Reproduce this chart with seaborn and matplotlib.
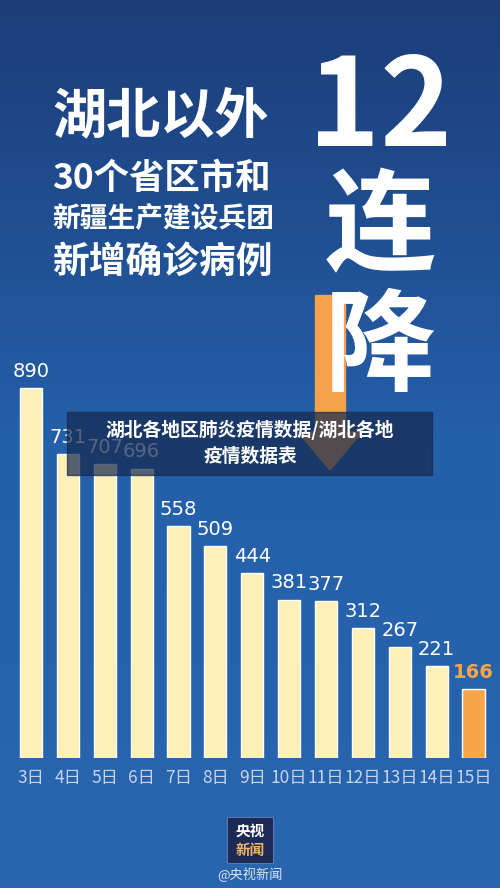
import numpy as np
import pandas as pd
import matplotlib
matplotlib.use("Agg")
import matplotlib.pyplot as plt
from matplotlib.patches import Rectangle, Polygon
import seaborn as sns

days = ["3日", "4日", "5日", "6日", "7日", "8日", "9日", "10日", "11日", "12日", "13日", "14日", "15日"]
new_cases = [890, 731, 707, 696, 558, 509, 444, 381, 377, 312, 267, 221, 166]

sns.set_style("white")
plt.rcParams['font.family'] = ['Noto Sans CJK SC', 'DejaVu Sans']

W, H = 500, 888
fig = plt.figure(figsize=(5, 8.88), dpi=100)

# background gradient
bg = fig.add_axes([0, 0, 1, 1])
grad = np.linspace(0, 1, 256).reshape(-1, 1)
cmap = matplotlib.colors.LinearSegmentedColormap.from_list("bg", ["#1c3d78", "#2460aa", "#2a66b0"])
bg.imshow(grad, aspect="auto", cmap=cmap, extent=[0, W, H, 0])
bg.set_xlim(0, W)
bg.set_ylim(H, 0)
bg.axis("off")

def px(x, y):
    return x / W, 1 - y / H

# headline text
for txt, y, fs in [("湖北以外", 118, 39), ("30个省区市和", 178, 25.5),
                   ("新疆生产建设兵团", 218, 20), ("新增确诊病例", 262, 26.5)]:
    fig.text(*px(52, y), txt, color="white", fontsize=fs, fontweight="bold", va="center", ha="left")

# orange arrow behind 降
bg.add_patch(Rectangle((315, 295), 30, 140, color="#f6a24c", zorder=2))
bg.add_patch(Polygon([[298, 432], [362, 432], [330, 470]], color="#f6a24c", zorder=2))
fig.text(*px(380, 110), "12", color="white", fontsize=88, fontweight="bold", ha="center", va="center")
fig.text(*px(380, 230), "连", color="white", fontsize=80, fontweight="bold", ha="center", va="center")
fig.text(*px(380, 350), "降", color="white", fontsize=80, fontweight="bold", ha="center", va="center", zorder=5)

# bar chart
ax = fig.add_axes([0.025, 0.1464, 0.959, 0.468])
df = pd.DataFrame({"day": days, "cases": new_cases})
colors = ["#fdf0b8"] * (len(days) - 1) + ["#f8a54a"]
sns.barplot(data=df, x="day", y="cases", hue="day", palette=colors, legend=False,
            width=0.6, ax=ax, saturation=1)
ax.set_xlim(-0.5, len(days) - 0.5)
ax.set_ylim(0, 1000)
ax.patch.set_alpha(0)
for s in ax.spines.values():
    s.set_visible(False)
ax.set_xlabel("")
ax.set_ylabel("")
ax.set_yticks([])
ax.tick_params(axis="x", length=0, pad=8, labelsize=12.5, labelcolor="#c6d4ec")
for i, v in enumerate(new_cases):
    last = i == len(new_cases) - 1
    ax.text(i, v + 18, str(v), ha="center", va="bottom", fontsize=14,
            color="#f8a54a" if last else "white", fontweight="bold" if last else "normal",
            family="DejaVu Sans")

# overlay caption
ov = fig.add_axes([0, 0, 1, 1])
ov.set_xlim(0, W)
ov.set_ylim(H, 0)
ov.axis("off")
ov.add_patch(Rectangle((67, 412), 365, 63, color="#162a50", alpha=0.72))
ov.text(250, 430, "湖北各地区肺炎疫情数据/湖北各地", color="white", fontsize=13.5,
        fontweight="bold", ha="center", va="center")
ov.text(250, 456, "疫情数据表", color="white", fontsize=13.5, fontweight="bold",
        ha="center", va="center")

# logo
ov.add_patch(Rectangle((227, 817), 46, 46, facecolor="#1c2a55", edgecolor="#5a78b0", lw=0.8))
ov.text(250, 831, "央视", color="white", fontsize=10.5, fontweight="bold", ha="center", va="center")
ov.text(250, 850, "新闻", color="#f2b36b", fontsize=10.5, fontweight="bold", ha="center", va="center")
ov.text(250, 875, "@央视新闻", color="#dfe6f2", fontsize=9.5, ha="center", va="center")

fig.savefig("out.png", dpi=100)
